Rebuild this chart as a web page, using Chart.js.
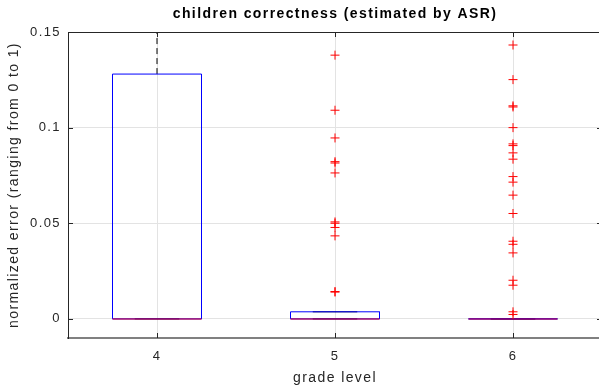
<!DOCTYPE html>
<html>
<head>
<meta charset="utf-8">
<script src="https://cdn.jsdelivr.net/npm/chart.js@4.4.1/dist/chart.umd.min.js"></script>
<style>
  html, body { margin: 0; padding: 0; background: #fff; }
  #wrap { width: 599px; height: 389px; overflow: hidden; }
</style>
</head>
<body>
<div id="wrap"><canvas id="boxChart" width="602" height="389"></canvas></div>
<script>
const grades = [4, 5, 6];
const yTicks = [0, 0.05, 0.1, 0.15];

// box statistics per grade
const q1 = [0, 0, 0];
const medians = [0, 0, 0];
const q3 = [0.128, 0.0037, 0];
const whiskerLow = [0, 0, 0];
const whiskerHigh = [0.3, 0.0037, 0];

// outliers per grade
const outliers4 = [];
const outliers5 = [0.1379, 0.1091, 0.0946, 0.0822, 0.0815, 0.0763, 0.0507, 0.0500, 0.0478, 0.0434, 0.0143, 0.0140];
const outliers6 = [0.1432, 0.1251, 0.1114, 0.1108, 0.1000, 0.0915, 0.0906, 0.0868, 0.0835, 0.0744, 0.0715,
  0.0647, 0.0551, 0.0406, 0.0390, 0.0345, 0.0202, 0.0176, 0.0037, 0.0023];
const outlierSets = [outliers4, outliers5, outliers6];

const BOX_HALF = 0.25;
const CAP_HALF = 0.125;
const SPACING = '1.4px';

Chart.defaults.font.family = '"Liberation Sans", Arial, Helvetica, sans-serif';
Chart.defaults.color = '#262626';

const datasets = [];
grades.forEach((g, i) => {
  // outliers
  datasets.push({
    data: outlierSets[i].map(v => ({ x: g, y: v })),
    showLine: false,
    pointStyle: 'cross',
    pointRadius: 4.5,
    pointBorderColor: '#ff0000',
    pointBorderWidth: 1,
    order: 0
  });
  // median
  datasets.push({
    data: [{ x: g - BOX_HALF, y: medians[i] }, { x: g + BOX_HALF, y: medians[i] }],
    showLine: true, pointRadius: 0, borderColor: 'rgba(200,0,60,0.75)', borderWidth: 1.5, order: 1
  });
  // box
  datasets.push({
    data: [
      { x: g - BOX_HALF, y: q1[i] }, { x: g - BOX_HALF, y: q3[i] },
      { x: g + BOX_HALF, y: q3[i] }, { x: g + BOX_HALF, y: q1[i] },
      { x: g - BOX_HALF, y: q1[i] }
    ],
    showLine: true, pointRadius: 0, borderColor: '#0000ff', borderWidth: 1, order: 2
  });
  // whisker caps
  [whiskerLow[i], whiskerHigh[i]].forEach(w => {
    datasets.push({
      data: [{ x: g - CAP_HALF, y: w }, { x: g + CAP_HALF, y: w }],
      showLine: true, pointRadius: 0, borderColor: '#000', borderWidth: 1, order: 3
    });
  });
  // whiskers (dashed)
  datasets.push({
    data: [{ x: g, y: q3[i] }, { x: g, y: whiskerHigh[i] }],
    showLine: true, pointRadius: 0, borderColor: '#000', borderWidth: 1, borderDash: [6, 4], order: 4
  });
  datasets.push({
    data: [{ x: g, y: q1[i] }, { x: g, y: whiskerLow[i] }],
    showLine: true, pointRadius: 0, borderColor: '#000', borderWidth: 1, borderDash: [6, 4], order: 4
  });
});

// top frame line + inward tick marks, and letter spacing like the original
const frame = {
  id: 'frame',
  beforeLayout(chart) { chart.ctx.letterSpacing = SPACING; },
  beforeDraw(chart) { chart.ctx.letterSpacing = SPACING; },
  afterDatasetsDraw(chart) {
    const { ctx, chartArea: a, scales: { x, y } } = chart;
    ctx.save();
    ctx.strokeStyle = '#262626';
    ctx.lineWidth = 1;
    ctx.beginPath();
    ctx.moveTo(a.left, Math.round(a.top) + 0.5);
    ctx.lineTo(a.right, Math.round(a.top) + 0.5);
    yTicks.forEach(v => {
      const py = Math.round(y.getPixelForValue(v)) + 0.5;
      ctx.moveTo(a.left, py); ctx.lineTo(a.left + 5, py);
      ctx.moveTo(a.right - 5, py); ctx.lineTo(a.right, py);
    });
    grades.forEach(v => {
      const px = Math.round(x.getPixelForValue(v)) + 0.5;
      ctx.moveTo(px, a.bottom); ctx.lineTo(px, a.bottom - 5);
      ctx.moveTo(px, a.top); ctx.lineTo(px, a.top + 5);
    });
    ctx.stroke();
    ctx.restore();
  }
};

new Chart(document.getElementById('boxChart'), {
  type: 'scatter',
  data: { datasets },
  options: {
    responsive: false,
    animation: false,
    layout: { autoPadding: false, padding: 0 },
    plugins: {
      legend: { display: false },
      tooltip: { enabled: false },
      title: {
        display: true,
        fullSize: false,
        text: 'children correctness (estimated by ASR)',
        color: '#000',
        font: { size: 14, weight: 'bold' },
        padding: { top: 5.5, bottom: 9.7 }
      }
    },
    scales: {
      x: {
        type: 'linear',
        min: 3.5,
        max: 6.5,
        afterBuildTicks: s => { s.ticks = grades.map(v => ({ value: v })); },
        afterFit: s => { s.height = 51; s.paddingLeft = 0; s.paddingRight = 0; },
        grid: { color: '#e3e3e3', drawTicks: false },
        border: { color: '#808080', width: 2 },
        ticks: { color: '#262626', font: { size: 13 }, padding: 11, callback: v => String(v) },
        title: { display: true, text: 'grade level', color: '#262626', font: { size: 14 }, padding: { top: 0, bottom: 2 } }
      },
      y: {
        min: -0.01,
        max: 0.15,
        afterBuildTicks: s => { s.ticks = yTicks.map(v => ({ value: v })); },
        afterFit: s => { s.width = 68; },
        grid: { color: '#e3e3e3', drawTicks: false },
        border: { color: '#262626', width: 1 },
        ticks: { color: '#262626', font: { size: 13 }, padding: 7, callback: v => String(v) },
        title: { display: true, text: 'normalized error (ranging from 0 to 1)', color: '#262626', font: { size: 14 }, padding: { top: 6, bottom: 0 } }
      }
    }
  },
  plugins: [frame]
});
</script>
</body>
</html>
